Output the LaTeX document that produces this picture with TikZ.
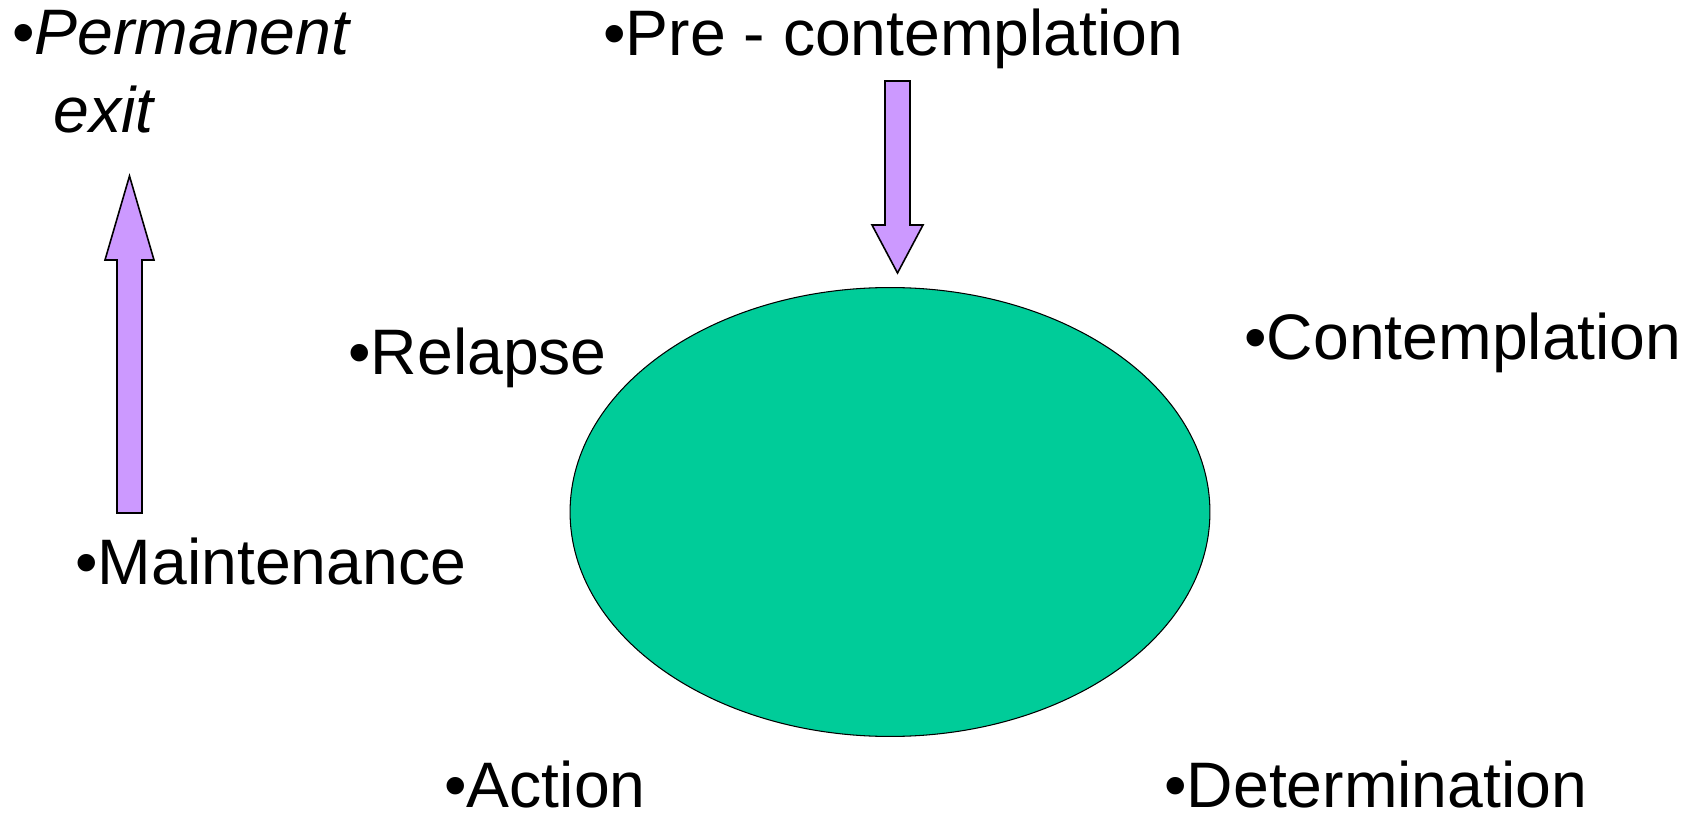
\documentclass[tikz,border=0pt]{standalone}
\usepackage{fontspec}
\setmainfont{Liberation Sans}
\usetikzlibrary{shapes.geometric}
\definecolor{stagegreen}{RGB}{0,204,153}
\definecolor{arrowlilac}{RGB}{204,153,255}

\begin{document}
\begin{tikzpicture}[x=0.02cm, y=-0.02cm]
		%%%%% START %%%%%
		\tikzset{stage/.style={anchor=base west, inner sep=0pt, font=\fontsize{36.6}{42}\selectfont},
			blockarrow/.style={draw=black, fill=arrowlilac, line width=0.9pt, line join=miter}}
		\useasboundingbox (0, 0) rectangle (1692, 813);
		
		\node[ellipse, draw=black, fill=stagegreen, line width=0.6pt, inner sep=0pt,
			minimum width=12.8cm, minimum height=8.98cm] (cycle) at (890, 512) {};
		
		\node[stage] (permanent) at (12, 55) {\textbullet\textit{Permanent}};
		\node[stage] (exit) at (53, 133) {\textit{exit}};
		\node[stage] (precont) at (603, 56) {\textbullet Pre - contemplation};
		\node[stage] (relapse) at (348, 375) {\textbullet Relapse};
		\node[stage] (contemp) at (1244, 360) {\textbullet Contemplation};
		\node[stage] (maint) at (75, 584) {\textbullet Maintenance};
		\node[stage] (action) at (444, 807) {\textbullet Action};
		\node[stage] (determ) at (1164, 807) {\textbullet Determination};
		
		% exit arrow
		\draw[blockarrow] (117, 513) -- (117, 260) -- (105, 260) -- (129.5, 176)
			-- (154, 260) -- (142, 260) -- (142, 513) -- cycle;
		
		% entry arrow
		\draw[blockarrow] (885, 81) -- (910, 81) -- (910, 225) -- (923, 225)
			-- (897.5, 273) -- (872, 225) -- (885, 225) -- cycle;
		
		%%%%% END %%%%%
	\end{tikzpicture}
\end{document}
